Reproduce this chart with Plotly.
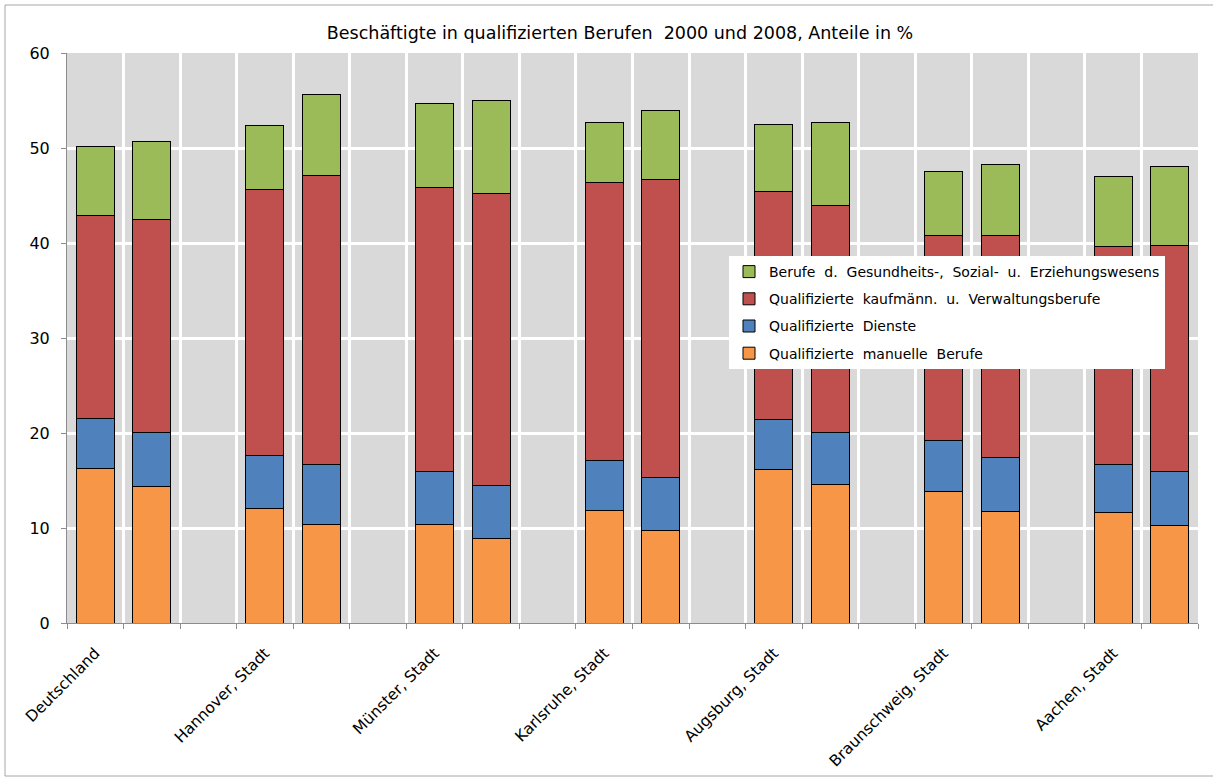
import plotly.graph_objects as go

# Regions and survey years (each region: 2000 bar, 2008 bar, then an empty slot)
regions = ["Deutschland", "Hannover, Stadt", "Münster, Stadt", "Karlsruhe, Stadt",
           "Augsburg, Stadt", "Braunschweig, Stadt", "Aachen, Stadt"]
years = ["2000", "2008"]

# Shares in % per region, ordered 2000, 2008
manuelle = [16.3, 14.35, 12.1, 10.4, 10.4, 8.85, 11.85, 9.75, 16.2, 14.6, 13.8, 11.7, 11.6, 10.3]
dienste = [5.2, 5.75, 5.5, 6.3, 5.6, 5.6, 5.25, 5.55, 5.2, 5.5, 5.4, 5.7, 5.1, 5.7]
kaufm = [21.4, 22.4, 28.05, 30.4, 29.8, 30.75, 29.3, 31.4, 24.0, 23.9, 21.6, 23.4, 22.9, 23.75]
gesundheit = [7.3, 8.2, 6.7, 8.5, 8.9, 9.75, 6.25, 7.3, 7.1, 8.7, 6.7, 7.5, 7.4, 8.35]

series = [
    ("Qualifizierte  manuelle  Berufe", manuelle, "#F79646"),
    ("Qualifizierte  Dienste", dienste, "#4F81BD"),
    ("Qualifizierte  kaufmänn.  u.  Verwaltungsberufe", kaufm, "#C0504D"),
    ("Berufe  d.  Gesundheits-,  Sozial-  u.  Erziehungswesens", gesundheit, "#9BBB59"),
]

# Category slots: two bars per region plus a spacer slot between regions
slots, slot_text = [], []
for i, r in enumerate(regions):
    for j, y in enumerate(years):
        slots.append(f"{r}|{y}")
        slot_text.append(r if j == 0 else "")
    if i < len(regions) - 1:
        slots.append(f"{r}|gap")
        slot_text.append("")

bar_slots = [f"{r}|{y}" for r in regions for y in years]

FONT = "DejaVu Sans"

fig = go.Figure()
for k, (name, vals, col) in enumerate(series):
    fig.add_trace(go.Bar(
        x=bar_slots, y=vals, name=name, legendgroup=str(k),
        legendrank=len(series) - k,
        marker=dict(color=col, line=dict(color="#000000", width=1)),
    ))

fig.update_layout(
    width=1213, height=783,
    barmode="stack", bargap=0.33,
    paper_bgcolor="white", plot_bgcolor="#D9D9D9",
    margin=dict(l=67, r=15, t=53, b=160),
    font=dict(family=FONT, color="#000000"),
    title=dict(text="Beschäftigte in qualifizierten Berufen  2000 und 2008, Anteile in %",
               x=620 / 1213, xanchor="center", y=1 - 33 / 783, yanchor="middle",
               font=dict(family=FONT, size=17.5, color="#000000")),
    legend=dict(x=(729 - 67) / 1131, y=(623 - 256) / 570, xanchor="left", yanchor="top",
                bgcolor="white", borderwidth=0, traceorder="grouped",
                tracegroupgap=6, font=dict(family=FONT, size=14, color="#000000")),
    showlegend=True,
)

fig.update_xaxes(
    type="category", categoryorder="array", categoryarray=slots,
    tickmode="array", tickvals=slots, ticktext=slot_text,
    tickson="boundaries", range=[-0.5, len(slots) - 0.5],
    showgrid=True, gridcolor="white", gridwidth=3,
    showline=True, linecolor="#8C8C8C", linewidth=1,
    ticks="outside", ticklen=5, tickcolor="#8C8C8C",
    ticklabelstandoff=14,
    tickangle=-45, tickfont=dict(family=FONT, size=15.5, color="#000000"),
)
fig.update_yaxes(
    range=[0, 60], dtick=10, tick0=0,
    showgrid=True, gridcolor="white", gridwidth=3,
    showline=True, linecolor="#8C8C8C", linewidth=1,
    ticks="outside", ticklen=5, tickcolor="#8C8C8C",
    ticklabelstandoff=8,
    tickfont=dict(family=FONT, size=16, color="#000000"),
    zeroline=False,
)

# Thin frame around the whole chart area
fig.add_shape(type="rect", xref="paper", yref="paper",
              x0=(5 - 67) / 1131, x1=(1220 - 67) / 1131,
              y0=(623 - 776) / 570, y1=(623 - 5) / 570,
              line=dict(color="#A6A6A6", width=1), fillcolor="rgba(0,0,0,0)", layer="below")

fig.write_html("out.html")
